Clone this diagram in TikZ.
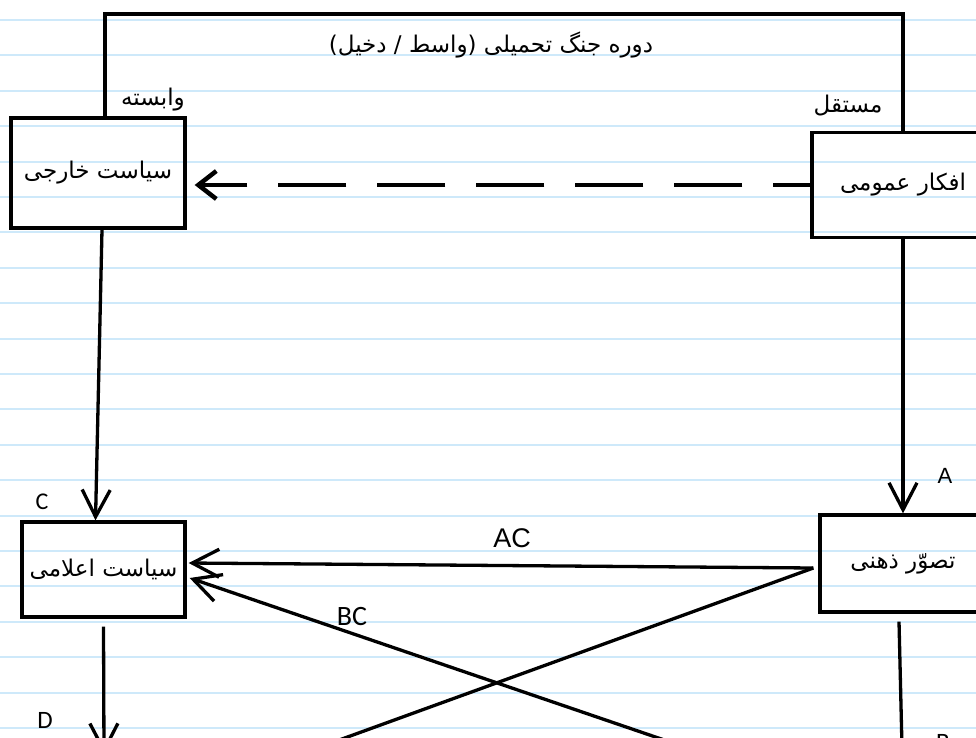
\documentclass[tikz,border=0pt]{standalone}
\usepackage{fontspec}
\setmainfont{Liberation Sans}
\newfontfamily\farsi[Script=Arabic]{DejaVu Sans}
\newfontfamily\calib{Carlito}
\TeXXeTstate=1
\usetikzlibrary{arrows.meta}
\definecolor{paper}{RGB}{206,233,250}
\newcommand{\fa}[1]{{\farsi\beginR #1\endR}}

\begin{document}
\begin{tikzpicture}[x=1pt,y=-1pt,line width=3.3pt,
  box/.style={draw,rectangle,inner sep=0pt,font=\fontsize{23}{26}\selectfont},
  barb/.style={-{Straight Barb[length=27pt,width=28pt,line width=3.3pt]}},
  fatext/.style={font=\fontsize{23}{26}\selectfont},
  ltr/.style={font=\fontsize{#1}{#1}\selectfont},
  cal/.style={font=\fontsize{#1}{#1}\calib}]
\useasboundingbox (0,0) rectangle (976,738);
\clip (0,0) rectangle (976,738);
\fill[white] (0,0) rectangle (976,738);
\foreach \k in {0,...,20}{\draw[line width=2pt,paper] (0,20+35.4*\k) -- (976,20+35.4*\k);}

\node[box,minimum width=174,minimum height=110] (khareji) at (98,173) {\fa{سیاست خارجی}};
\node[box,minimum width=182,minimum height=105] (afkar) at (903,185) {\fa{افکار عمومی}};
\node[box,minimum width=163,minimum height=95] (elami) at (103.5,569.5) {\fa{سیاست اعلامی}};
\node[box,minimum width=166,minimum height=97] (tasavor) at (903,563.5) {\fa{تصوّر ذهنی}};

\coordinate (roof) at (491,14);
\draw ([xshift=7pt]khareji.north) |- (roof) -| (afkar.north);
\node[fatext] (title) at (491,45) {\fa{دوره جنگ تحمیلی (واسط / دخیل)}};
\node[fatext] (vabaste) at (153,100) {\fa{وابسته}};
\node[fatext] (mostaqel) at (848,106) {\fa{مستقل}};

\draw[dash pattern=on 68pt off 31pt,dash phase=31pt,shorten >=8pt,
  -{Straight Barb[length=18pt,width=28pt,line width=4.5pt]}]
  (afkar.west) -- (khareji.east |- afkar.west);

% lines running out below
\coordinate (lowL) at (251,772);
\coordinate (lowR) at (758,772);
\coordinate (lowB) at (903,790);
\coordinate (lowD) at (104,754);

\draw[barb] ([xshift=4pt]khareji.south) -- ([xshift=-8pt]elami.north);
\draw[barb] (afkar.south) -- (tasavor.north);
\draw[barb] ([xshift=-5pt,yshift=-4.5pt]tasavor.west) -- ([xshift=2pt,yshift=6.5pt]elami.east);
\draw ([xshift=-5pt,yshift=-4.5pt]tasavor.west) -- (lowL);
\draw[barb] (lowR) -- ([xshift=3pt,yshift=-8.5pt]elami.east);
\draw ([xshift=-4pt,yshift=-8pt]tasavor.south) -- (lowB);
\draw[barb] ([yshift=-8pt]elami.south) -- (lowD);

\node[ltr=22] (a) at (945,476) {A};
\node[ltr=27] (ac) at (512,538) {AC};
\node[cal=28] (bc) at (352,617) {BC};
\node[cal=24] (c) at (42,502) {C};
\node[cal=25] (d) at (45,720) {D};
\node[cal=25] (b) at (943,742) {B};
\end{tikzpicture}
\end{document}
